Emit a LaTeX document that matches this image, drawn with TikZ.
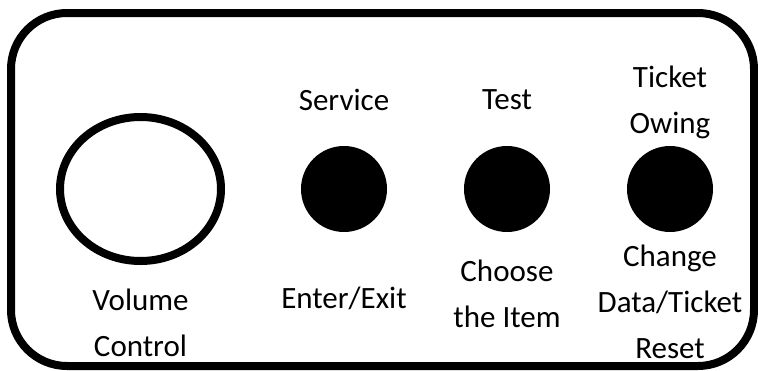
\documentclass[tikz,border=0pt]{standalone}
\usepackage{fontspec}
\setmainfont{Carlito}
\begin{document}
\begin{tikzpicture}[x=1pt,y=-1pt,
  lbl/.style={font=\fontsize{31}{46}\selectfont, align=center, inner sep=0pt, anchor=center},
  knob/.style={draw=black, line width=8pt, fill=white},
  btn/.style={fill=black}]
\useasboundingbox (0,0) rectangle (758,370);
\draw[line width=8pt, rounded corners=56pt] (11,13) rectangle (754,366);
\draw[knob] (140.5,189) ellipse [x radius=80.5, y radius=72];
\fill[btn] (344,189) circle [radius=43];
\fill[btn] (507,189) circle [radius=43];
\fill[btn] (670,189) circle [radius=43];
\node[lbl] (vol) at (140.5,323) {Volume\\Control};
\node[lbl] (svc) at (344,100) {Service};
\node[lbl] (ent) at (344,298) {Enter/Exit};
\node[lbl] (tst) at (507,100) {Test};
\node[lbl] (cho) at (507,294) {Choose\\the Item};
\node[lbl] (tkt) at (670,102) {Ticket\\Owing};
\node[lbl] (chg) at (670,302) {Change\\Data/Ticket\\Reset};
\end{tikzpicture}
\end{document}
